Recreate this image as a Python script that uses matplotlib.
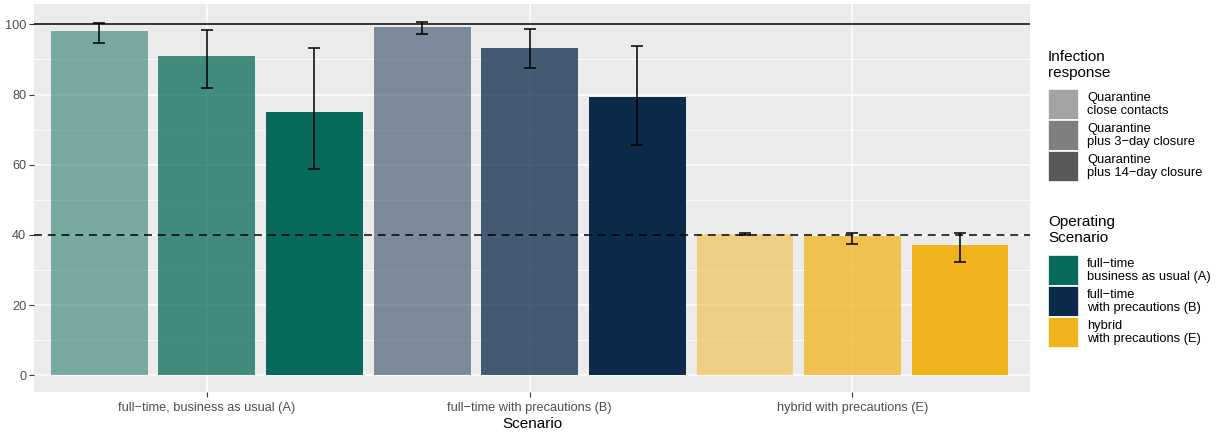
import numpy as np
import matplotlib
matplotlib.use("Agg")
import matplotlib.pyplot as plt
from matplotlib.patches import Rectangle

# ── data ─────────────────────────────────────────────
scenarios = ["full\u2212time, business as usual (A)",
             "full\u2212time with precautions (B)",
             "hybrid with precautions (E)"]
responses = ["Quarantine\nclose contacts",
             "Quarantine\nplus 3\u2212day closure",
             "Quarantine\nplus 14\u2212day closure"]
scenario_labels = ["full\u2212time\nbusiness as usual (A)",
                   "full\u2212time\nwith precautions (B)",
                   "hybrid\nwith precautions (E)"]

# rows = scenario, cols = infection response
values = [[98.1, 91.0, 75.0],
          [99.2, 93.2, 79.3],
          [40.4, 39.8, 37.1]]
err_lo = [[94.6, 81.8, 58.8],
          [97.3, 87.6, 65.6],
          [40.1, 37.5, 32.2]]
err_hi = [[100.3, 98.4, 93.2],
          [100.6, 98.7, 93.8],
          [40.6, 40.6, 40.6]]

# ── style ────────────────────────────────────────────
SCEN_COLORS = ["#076A5A", "#0C2A4A", "#F0B31C"]
ALPHAS = [0.5, 0.75, 1.0]
RESP_GREYS = ["#A3A3A3", "#7F7F7F", "#595959"]
PANEL_BG = "#EBEBEB"
TICK_TXT = "#4D4D4D"

plt.rcParams.update({
    "font.family": ["Liberation Sans", "DejaVu Sans"],
    "font.size": 9.2,
})

fig = plt.figure(figsize=(12.19, 4.34), dpi=100)
ax = fig.add_axes([0.0279, 0.0968, 0.8171, 0.894])
ax.set_facecolor(PANEL_BG)
for s in ax.spines.values():
    s.set_visible(False)

offsets = [-0.333, 0.0, 0.333]
width = 0.30
for i, scen in enumerate(scenarios):
    for j in range(3):
        x = i + 1 + offsets[j]
        ax.bar(x, values[i][j], width, color=SCEN_COLORS[i], alpha=ALPHAS[j],
               linewidth=0, zorder=2)
        ax.errorbar(x, values[i][j],
                    yerr=[[values[i][j] - err_lo[i][j]], [err_hi[i][j] - values[i][j]]],
                    fmt="none", ecolor="black", elinewidth=1.1, capsize=4,
                    capthick=1.1, zorder=4)

ax.axhline(100, color="black", lw=1.1, zorder=3)
ax.axhline(40, color="black", lw=1.1, ls=(0, (5.2, 3.8)), zorder=3)

ax.set_xlim(0.465, 3.55)
ax.set_ylim(-4.76, 105.8)
ax.set_xticks([1, 2, 3])
ax.set_xticklabels(scenarios, color=TICK_TXT)
ax.set_yticks([0, 20, 40, 60, 80, 100])
ax.set_yticks([10, 30, 50, 70, 90], minor=True)
ax.tick_params(axis="both", which="major", length=3.5, width=0.8, color="#333333",
               labelcolor=TICK_TXT, labelsize=9.2, pad=2)
ax.tick_params(axis="x", which="major", pad=4)
ax.tick_params(axis="y", which="minor", length=0)
ax.grid(which="major", color="white", lw=1.1, zorder=0)
ax.grid(which="minor", axis="y", color="white", lw=0.55, zorder=0)
ax.set_axisbelow(True)
ax.set_xlabel("Scenario", fontsize=11, labelpad=2)

# ── legends (drawn by hand, ggplot style) ────────────
W, H = 1219.0, 434.0


def fx(px):
    return px / W


def fy(py):
    return 1 - py / H


def legend_block(title, title_y, key_top, colors, labels):
    fig.text(fx(1048), fy(title_y), title, fontsize=11, va="top", ha="left",
             linespacing=1.2)
    kh = 31
    for k, (c, lab) in enumerate(zip(colors, labels)):
        top = key_top + k * kh
        fig.patches.append(Rectangle((fx(1048), fy(top + kh)), fx(31), kh / H,
                                     transform=fig.transFigure, facecolor=c,
                                     edgecolor="white", lw=1.2))
        fig.text(fx(1087), fy(top + kh / 2), lab, fontsize=9.3, va="center",
                 ha="left", linespacing=1.1)


legend_block("Infection\nresponse", 50, 89, RESP_GREYS, responses)
legend_block("Operating\nScenario", 215, 255, SCEN_COLORS, scenario_labels)

fig.savefig("out.png", dpi=100, facecolor="white")
